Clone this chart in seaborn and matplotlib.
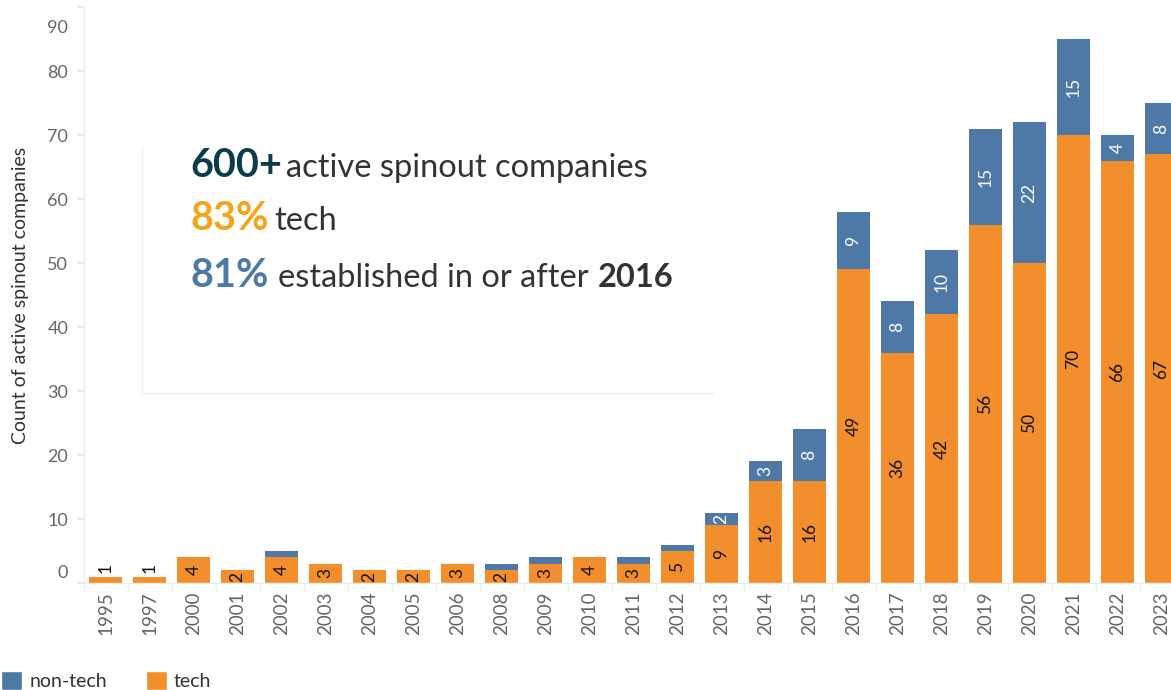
import matplotlib
matplotlib.use("Agg")
import matplotlib.pyplot as plt
import matplotlib.transforms as mtransforms
from matplotlib.lines import Line2D
from matplotlib.patches import Patch
import pandas as pd
import seaborn as sns

# data
years = ['1995', '1997', '2000', '2001', '2002', '2003', '2004', '2005', '2006',
         '2008', '2009', '2010', '2011', '2012', '2013', '2014', '2015', '2016',
         '2017', '2018', '2019', '2020', '2021', '2022', '2023']
tech = [1, 1, 4, 2, 4, 3, 2, 2, 3, 2, 3, 4, 3, 5, 9, 16, 16, 49, 36, 42, 56, 50, 70, 66, 67]
non_tech = [0, 0, 0, 0, 1, 0, 0, 0, 0, 1, 1, 0, 1, 1, 2, 3, 8, 9, 8, 10, 15, 22, 15, 4, 8]
y_ticks = [0, 10, 20, 30, 40, 50, 60, 70, 80, 90]

BLUE = '#4E79A7'
ORANGE = '#F28E2B'

sns.set_theme(style='white')
plt.rcParams['font.family'] = ['Lato', 'DejaVu Sans']

df = pd.DataFrame({'year': years, 'tech': tech, 'non_tech': non_tech})
df['total'] = df['tech'] + df['non_tech']

fig = plt.figure(figsize=(11.71, 6.9), dpi=100)
ax = fig.add_axes([83.5 / 1171, 107 / 690, 1100 / 1171, 576 / 690])

# stacked bars: totals in blue, tech drawn over them in orange
sns.barplot(data=df, x='year', y='total', order=years, color=BLUE,
            width=0.75, saturation=1, linewidth=0, ax=ax)
sns.barplot(data=df, x='year', y='tech', order=years, color=ORANGE,
            width=0.75, saturation=1, linewidth=0, ax=ax)

# value labels
for i, row in df.iterrows():
    if row['tech'] >= 2:
        ax.text(i, row['tech'] / 2, str(row['tech']), rotation=90,
                ha='center', va='center', fontsize=12.5, color='#111111')
    else:
        ax.text(i, row['tech'] + 0.6, str(row['tech']), rotation=90,
                ha='center', va='bottom', fontsize=12.5, color='#111111')
    if row['non_tech'] >= 2:
        ax.text(i, row['tech'] + row['non_tech'] / 2, str(row['non_tech']),
                rotation=90, ha='center', va='center', fontsize=12.5, color='white')

ax.set_ylim(0, 90)
ax.set_xlim(-0.5, 24.5)
ax.set_yticks(y_ticks)
ax.set_yticklabels([str(t) for t in y_ticks])
ax.set_xlabel('')
ax.set_ylabel('Count of active spinout companies', fontsize=14, color='#333333',
              labelpad=13)
ax.tick_params(axis='y', labelsize=13, labelcolor='#666666', length=5,
               color='#e6e6e6', left=True, pad=6)
ax.tick_params(axis='x', labelsize=13.5, labelcolor='#666666', rotation=90,
               length=0, pad=6)
ax.set_xticks([i + 0.5 for i in range(-1, 25)], minor=True)
ax.tick_params(axis='x', which='minor', bottom=True, length=6, color='#eeeeee')

# shift the end labels the way the reference does
labels = ax.get_yticklabels()
labels[0].set_transform(labels[0].get_transform() +
                        mtransforms.ScaledTranslation(0, 12 / 100, fig.dpi_scale_trans))
labels[-1].set_transform(labels[-1].get_transform() +
                         mtransforms.ScaledTranslation(0, -19 / 100, fig.dpi_scale_trans))

for side in ['top', 'right']:
    ax.spines[side].set_visible(False)
for side in ['left', 'bottom']:
    ax.spines[side].set_color('#ececec')
    ax.spines[side].set_linewidth(1)
ax.grid(False)

# callout box lines
fig.add_artist(Line2D([142 / 1171, 142 / 1171], [1 - 147 / 690, 1 - 393 / 690],
                      color='#f0f0f0', lw=1))
fig.add_artist(Line2D([142 / 1171, 713 / 1171], [1 - 393 / 690, 1 - 393 / 690],
                      color='#f0f0f0', lw=1))

# callout text, pieces laid out one after another
renderer = fig.canvas.get_renderer()


def text_line(x_px, base_px, parts):
    x = x_px
    for s, size, color, weight, gap in parts:
        t = fig.text(x / 1171, 1 - base_px / 690, s, fontsize=size, color=color,
                     fontweight=weight, va='baseline', ha='left')
        bb = t.get_window_extent(renderer)
        x += bb.width + gap


text_line(190, 177, [('600+', 28.5, '#0B3C49', 'bold', 4),
                     ('active spinout companies', 23.5, '#333333', 'normal', 0)])
text_line(190, 230, [('83%', 28.5, '#F5A31A', 'bold', 6),
                     ('tech', 23.5, '#333333', 'normal', 0)])
text_line(190, 287, [('81%', 28.5, BLUE, 'bold', 10),
                     ('established in or after ', 23.5, '#333333', 'normal', 0),
                     ('2016', 23.5, '#333333', 'bold', 0)])

handles = [Patch(facecolor=BLUE, label='non-tech'), Patch(facecolor=ORANGE, label='tech')]
fig.legend(handles=handles, loc='lower left', bbox_to_anchor=(-0.014, -0.026),
           ncol=2, frameon=False, fontsize=14, handlelength=1.1, handleheight=1.1,
           handletextpad=0.35, columnspacing=2.0, labelcolor='#333333')

fig.savefig('out.png', dpi=100)
